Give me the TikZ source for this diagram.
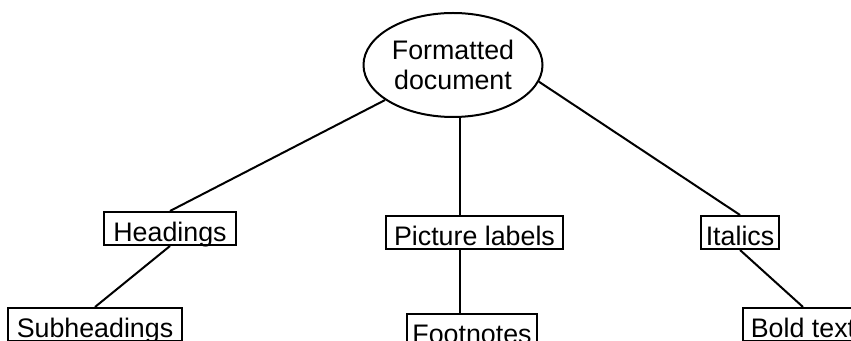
\documentclass[tikz,border=0pt]{standalone}
\usepackage{fontspec}
\setmainfont{Liberation Sans}
\usepackage{tikz}
\usetikzlibrary{shapes,positioning}

\begin{document}
\begin{tikzpicture}[
    x=0.5pt, y=-0.5pt,
    every node/.style={font=\fontsize{13.4}{15}\selectfont},
    box/.style={rectangle, draw, line width=1pt, anchor=north, inner xsep=2pt, inner ysep=1.5pt, text height=13.5pt, text depth=0pt},
    link/.style={line width=1pt}
]
    \useasboundingbox (0,0) rectangle (851,341);
    \clip (0,0) rectangle (851,341);

    \node[ellipse, draw, line width=1pt, align=center, inner sep=0pt, minimum width=89.5pt, minimum height=52pt] (doc) at (453,65) {Formatted\\document};

    \node[box, minimum width=66pt] (hd) at (170,211) {Headings};
    \node[box, minimum width=88.5pt] (pl) at (474.5,215) {Picture labels};
    \node[box, minimum width=39pt] (it) at (740,215) {Italics};
    \node[box, minimum width=87pt] (sub) at (95,307) {Subheadings};
    \node[box, minimum width=65pt] (fn) at (472,313) {Footnotes};
    \node[box, minimum width=60pt] (bt) at (803,307) {Bold text};

    \draw[link] (doc) -- (hd.north);
    \draw[link] (doc.-82) -- (doc.-82 |- pl.north);
    \draw[link] (doc.-11) -- (it.north);
    \draw[link] (hd.south) -- (sub.north);
    \draw[link] (doc.-82 |- pl.south) -- (doc.-82 |- fn.north);
    \draw[link] (it.south) -- (bt.north);
\end{tikzpicture}
\end{document}
